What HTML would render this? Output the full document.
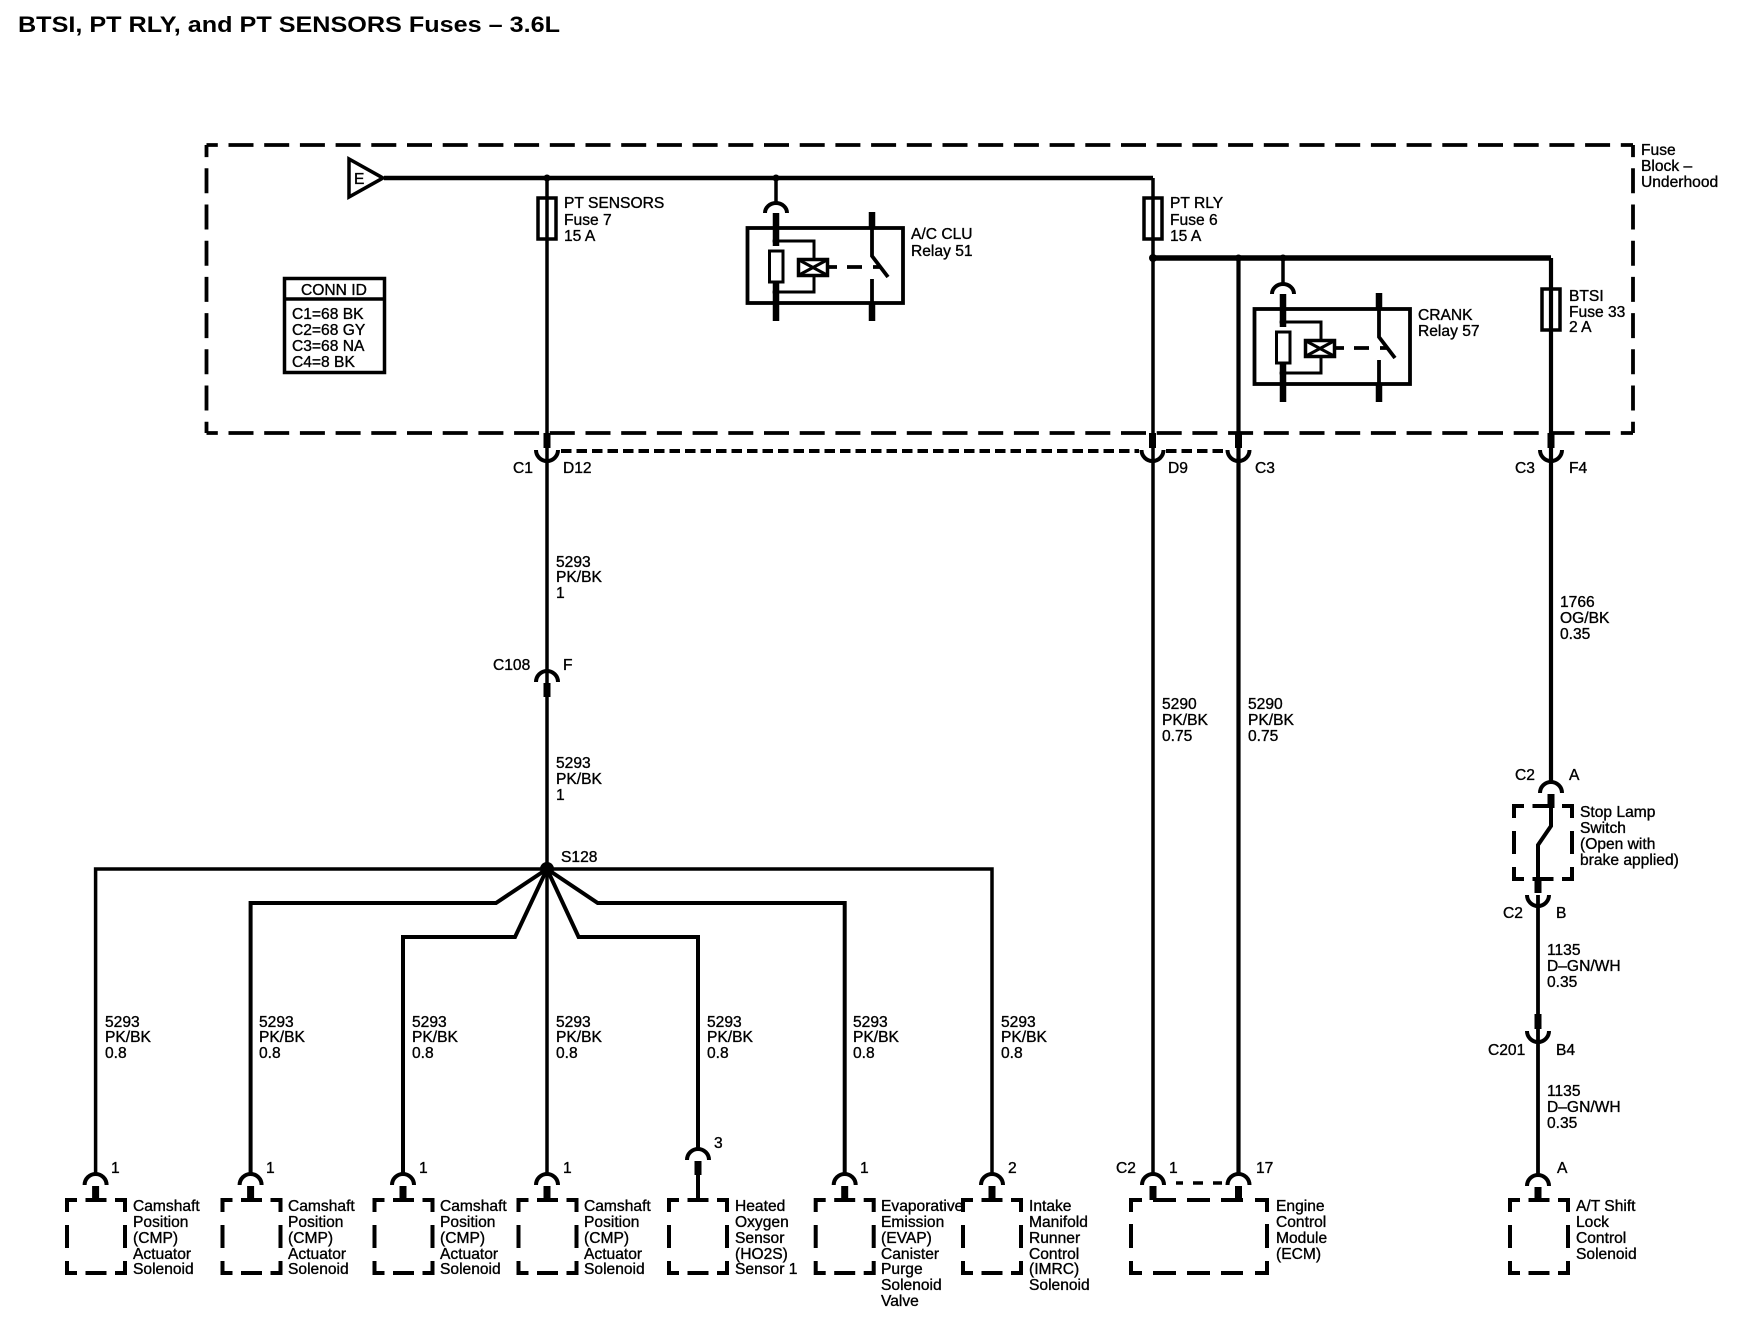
<!DOCTYPE html>
<html><head><meta charset="utf-8"><style>
html,body{margin:0;padding:0;background:#fff}
svg{display:block}
text{font-family:"Liberation Sans",sans-serif;font-size:15.6px;fill:#000;stroke:#000;stroke-width:.35px}
.w{fill:none;stroke:#000}
.t{fill:none;stroke:#000}
</style></head><body>
<svg width="1740" height="1328" viewBox="0 0 1740 1328" xmlns="http://www.w3.org/2000/svg" stroke-width="3.8">
<defs>
<g id="top"><path class="w" stroke-width="4" d="M-11,12 A11,11 0 0 1 11,12"/><path class="t" stroke-width="7" d="M0,13V27"/></g>
<g id="bot"><path class="t" stroke-width="7" d="M0,-17V-2"/><path class="w" stroke-width="4" d="M-11,0 A11,11 0 0 0 11,0"/></g>
<g id="box"><path class="w" stroke-width="4" d="M-29,12V0H-19M-10.5,0H10.5M19,0H29V12M-29,25V48M29,25V48M-29,61V73H-19M-10.5,73H10.5M19,73H29V61"/></g>
<path id="arcOnly" class="w" stroke-width="4" d="M-11,11 A11,10 0 0 1 11,11"/>
<g id="relay">
<rect class="w" x="747.500" y="228" width="155.500" height="75"/>
<use href="#arcOnly" x="776" y="202"/>
<path class="t" stroke-width="6.500" d="M776,213V246M776,282V321M872,212V229M872,303V321"/>
<rect x="769.500" y="251" width="13.500" height="31" fill="#fff" stroke="#000" stroke-width="3"/>
<circle cx="776" cy="241" r="3.500"/><circle cx="776" cy="292" r="3.500"/>
<path class="w" stroke-width="3" d="M776,241H814V258M814,277V292H776"/>
<rect x="798.500" y="259.500" width="29" height="16" fill="#fff" stroke="#000" stroke-width="3.500"/>
<path class="w" stroke-width="3" d="M799,260L827,275M827,260L799,275"/>
<path class="w" d="M829,267H837M847,267H862M873,267H880"/>
<path class="w" d="M872,228V256L888,277M872,279V303"/>
</g>
</defs>

<text x="18" y="32" style="font-size:22px;font-weight:bold;stroke-width:0" textLength="542" lengthAdjust="spacingAndGlyphs">BTSI, PT RLY, and PT SENSORS Fuses – 3.6L</text>

<!-- fuse block outline -->
<g fill="none" stroke="#000" stroke-width="3.800">
<path d="M206.500,145H1633" stroke-dasharray="25 10.700" stroke-dashoffset="13.700"/>
<path d="M206.500,433H1633" stroke-dasharray="25 10.700" stroke-dashoffset="13.700"/>
<path d="M206.500,145V433" stroke-dasharray="25 11.200" stroke-dashoffset="12.900"/>
<path d="M1633,145V433" stroke-dasharray="25 11.200" stroke-dashoffset="12.900"/>
</g>

<!-- source -->
<path d="M349,159V197L383,178Z" fill="#fff" stroke="#000" stroke-width="3.500"/>
<text x="354" y="184">E</text>
<path class="w" stroke-width="4.500" d="M384,178H1153"/>
<path class="w" stroke-width="5.500" d="M1153,258H1551"/>
<g>
<circle cx="547" cy="178" r="3.500"/><circle cx="776" cy="178" r="3.500"/>
<circle cx="1153" cy="258" r="4"/><circle cx="1238.500" cy="258" r="3.500"/><circle cx="1283" cy="258" r="3.500"/>
</g>

<!-- fuses -->
<rect x="538" y="198" width="18" height="41" fill="#fff" stroke="#000" stroke-width="3.500"/>
<rect x="1144" y="198" width="18" height="41" fill="#fff" stroke="#000" stroke-width="3.500"/>
<rect x="1542" y="289" width="18" height="41" fill="#fff" stroke="#000" stroke-width="3.500"/>

<!-- main verticals -->
<path class="w" stroke-width="3.500" d="M547,178V869"/>
<path class="w" stroke-width="3.500" d="M1153,178V1173"/>
<path class="w" stroke-width="4.200" d="M1238.500,258V1173"/>
<path class="w" stroke-width="4.200" d="M1551,258V781"/>
<path class="w" stroke-width="3.500" d="M776,178V202M1283,258V283"/>

<!-- relays -->
<use href="#relay"/>
<use href="#relay" transform="translate(507,81)"/>

<!-- conn id -->
<rect x="284.500" y="278.500" width="100" height="94" fill="none" stroke="#000" stroke-width="3.500"/>
<path class="w" stroke-width="3.500" d="M284,299H385"/>
<text x="301" y="295">CONN ID</text>
<text x="292" y="319">C1=68 BK</text>
<text x="292" y="335">C2=68 GY</text>
<text x="292" y="351">C3=68 NA</text>
<text x="292" y="367">C4=8 BK</text>

<!-- bottom connectors of fuse block -->
<use href="#bot" x="547" y="450"/>
<use href="#bot" x="1152.500" y="450"/>
<use href="#bot" x="1238.500" y="450"/>
<use href="#bot" x="1551" y="450"/>
<path fill="none" stroke="#000" stroke-width="4" stroke-dasharray="10.500 5" d="M561,451H1139M1166,451H1226"/>

<!-- C108 -->
<use href="#top" x="547" y="670"/>

<!-- fan-out -->
<circle cx="547" cy="869" r="7"/>
<path class="w" stroke-width="3.500" d="M95.600,1173V869H992V1173"/>
<path class="w" stroke-width="4" d="M547,869L496,903H250.600V1173"/>
<path class="w" stroke-width="4" d="M547,869L515,937H403V1173"/>
<path class="w" stroke-width="3.500" d="M547,869V1173"/>
<path class="w" stroke-width="4" d="M547,869L578.600,937H698V1148"/>
<path class="w" stroke-width="4" d="M547,869L597.700,903H844.700V1173"/>

<!-- loads -->
<g>
<use href="#top" x="95.600" y="1173"/><use href="#box" x="96" y="1200"/>
<use href="#top" x="250.600" y="1173"/><use href="#box" x="251.500" y="1200"/>
<use href="#top" x="403" y="1173"/><use href="#box" x="403.500" y="1200"/>
<use href="#top" x="547" y="1173"/><use href="#box" x="547.500" y="1200"/>
<use href="#top" x="698" y="1148"/><path class="w" stroke-width="4" d="M698,1170V1200"/><use href="#box" x="698" y="1200"/>
<use href="#top" x="844.700" y="1173"/><use href="#box" x="844.700" y="1200"/>
<use href="#top" x="992" y="1173"/><use href="#box" x="992" y="1200"/>
</g>

<!-- ECM -->
<use href="#top" x="1153" y="1173"/>
<use href="#top" x="1238.500" y="1173"/>
<path class="w" stroke-width="3.600" d="M1176,1183H1183M1193,1183H1203M1213,1183H1222"/>
<path class="w" stroke-width="4" d="M1131,1212V1200H1142M1153,1200H1176M1187,1200H1210M1221,1200H1243M1255,1200H1267V1212M1131,1224V1248M1267,1224V1248M1131,1261V1273H1142M1153,1273H1176M1187,1273H1210M1221,1273H1243M1255,1273H1267V1261"/>

<!-- stop lamp -->
<use href="#top" x="1551" y="781"/>
<use href="#box" x="1543" y="806"/>
<path class="w" stroke-width="4" d="M1551,806V826L1538,845V880"/>
<use href="#bot" x="1538" y="895"/>
<path class="w" stroke-width="3.800" d="M1538,895V1174"/>
<use href="#bot" x="1538" y="1031"/>
<use href="#top" x="1538" y="1174"/>
<use href="#box" x="1539" y="1200"/>

<!-- labels -->
<text x="564" y="208">PT SENSORS</text><text x="564" y="225">Fuse 7</text><text x="564" y="241">15 A</text>
<text x="1170" y="208">PT RLY</text><text x="1170" y="225">Fuse 6</text><text x="1170" y="241">15 A</text>
<text x="911" y="239">A/C CLU</text><text x="911" y="256">Relay 51</text>
<text x="1418" y="320">CRANK</text><text x="1418" y="336">Relay 57</text>
<text x="1569" y="301">BTSI</text><text x="1569" y="317">Fuse 33</text><text x="1569" y="332">2 A</text>
<text x="1641" y="155">Fuse</text><text x="1641" y="171">Block –</text><text x="1641" y="187">Underhood</text>

<text x="513" y="473">C1</text><text x="563" y="473">D12</text>
<text x="1168" y="473">D9</text><text x="1255" y="473">C3</text>
<text x="1515" y="473">C3</text><text x="1569" y="473">F4</text>

<text x="556" y="567">5293</text><text x="556" y="582">PK/BK</text><text x="556" y="598">1</text>
<text x="493" y="670">C108</text><text x="563" y="670">F</text>
<text x="556" y="768">5293</text><text x="556" y="784">PK/BK</text><text x="556" y="800">1</text>
<text x="561" y="862">S128</text>

<text x="1162" y="709">5290</text><text x="1162" y="725">PK/BK</text><text x="1162" y="741">0.75</text>
<text x="1248" y="709">5290</text><text x="1248" y="725">PK/BK</text><text x="1248" y="741">0.75</text>
<text x="1560" y="607">1766</text><text x="1560" y="623">OG/BK</text><text x="1560" y="639">0.35</text>

<text x="105" y="1027">5293</text><text x="105" y="1042">PK/BK</text><text x="105" y="1058">0.8</text>
<text x="259" y="1027">5293</text><text x="259" y="1042">PK/BK</text><text x="259" y="1058">0.8</text>
<text x="412" y="1027">5293</text><text x="412" y="1042">PK/BK</text><text x="412" y="1058">0.8</text>
<text x="556" y="1027">5293</text><text x="556" y="1042">PK/BK</text><text x="556" y="1058">0.8</text>
<text x="707" y="1027">5293</text><text x="707" y="1042">PK/BK</text><text x="707" y="1058">0.8</text>
<text x="853" y="1027">5293</text><text x="853" y="1042">PK/BK</text><text x="853" y="1058">0.8</text>
<text x="1001" y="1027">5293</text><text x="1001" y="1042">PK/BK</text><text x="1001" y="1058">0.8</text>

<text x="111" y="1173">1</text><text x="266" y="1173">1</text><text x="419" y="1173">1</text><text x="563" y="1173">1</text>
<text x="714" y="1148">3</text><text x="860" y="1173">1</text><text x="1008" y="1173">2</text>
<text x="1116" y="1173">C2</text><text x="1169" y="1173">1</text><text x="1256" y="1173">17</text>

<text x="133" y="1211">Camshaft</text><text x="133" y="1227">Position</text><text x="133" y="1243">(CMP)</text><text x="133" y="1259">Actuator</text><text x="133" y="1274">Solenoid</text>
<text x="288" y="1211">Camshaft</text><text x="288" y="1227">Position</text><text x="288" y="1243">(CMP)</text><text x="288" y="1259">Actuator</text><text x="288" y="1274">Solenoid</text>
<text x="440" y="1211">Camshaft</text><text x="440" y="1227">Position</text><text x="440" y="1243">(CMP)</text><text x="440" y="1259">Actuator</text><text x="440" y="1274">Solenoid</text>
<text x="584" y="1211">Camshaft</text><text x="584" y="1227">Position</text><text x="584" y="1243">(CMP)</text><text x="584" y="1259">Actuator</text><text x="584" y="1274">Solenoid</text>
<text x="735" y="1211">Heated</text><text x="735" y="1227">Oxygen</text><text x="735" y="1243">Sensor</text><text x="735" y="1259">(HO2S)</text><text x="735" y="1274">Sensor 1</text>
<text x="881" y="1211">Evaporative</text><text x="881" y="1227">Emission</text><text x="881" y="1243">(EVAP)</text><text x="881" y="1259">Canister</text><text x="881" y="1274">Purge</text><text x="881" y="1290">Solenoid</text><text x="881" y="1306">Valve</text>
<text x="1029" y="1211">Intake</text><text x="1029" y="1227">Manifold</text><text x="1029" y="1243">Runner</text><text x="1029" y="1259">Control</text><text x="1029" y="1274">(IMRC)</text><text x="1029" y="1290">Solenoid</text>
<text x="1276" y="1211">Engine</text><text x="1276" y="1227">Control</text><text x="1276" y="1243">Module</text><text x="1276" y="1259">(ECM)</text>

<text x="1515" y="780">C2</text><text x="1569" y="780">A</text>
<text x="1580" y="817">Stop Lamp</text><text x="1580" y="833">Switch</text><text x="1580" y="849">(Open with</text><text x="1580" y="865">brake applied)</text>
<text x="1503" y="918">C2</text><text x="1556" y="918">B</text>
<text x="1547" y="955">1135</text><text x="1547" y="971">D–GN/WH</text><text x="1547" y="987">0.35</text>
<text x="1488" y="1055">C201</text><text x="1556" y="1055">B4</text>
<text x="1547" y="1096">1135</text><text x="1547" y="1112">D–GN/WH</text><text x="1547" y="1128">0.35</text>
<text x="1557" y="1173">A</text>
<text x="1576" y="1211">A/T Shift</text><text x="1576" y="1227">Lock</text><text x="1576" y="1243">Control</text><text x="1576" y="1259">Solenoid</text>
</svg>
</body></html>
